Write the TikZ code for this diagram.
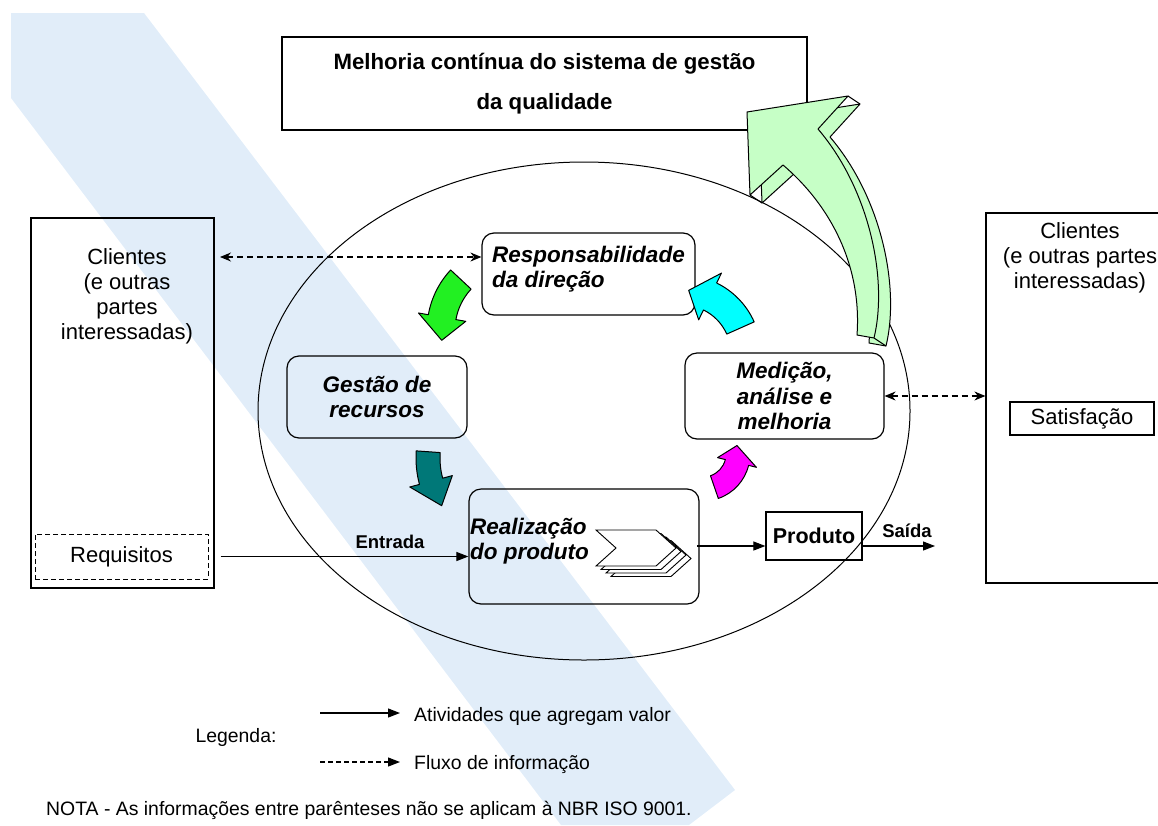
\documentclass[tikz,border=0pt]{standalone}
\usepackage{fontspec}
\setmainfont{Liberation Sans}
\usepackage{tikz}
\usetikzlibrary{calc,arrows.meta}
\definecolor{bandblue}{HTML}{E1EDF9}
\definecolor{arrgreen}{HTML}{22F022}
\definecolor{arrcyan}{HTML}{00FFFF}
\definecolor{arrteal}{HTML}{007878}
\definecolor{arrmagenta}{HTML}{FF00FF}
\definecolor{biggreen}{HTML}{C6FFC6}
\tikzset{
  box/.style={draw, line width=1.2pt, inner sep=1pt},
  rbox/.style={box, rounded corners=12pt},
  reg/.style={font=\fontsize{22}{25}\selectfont, align=center, inner sep=1pt},
  bi/.style={font=\fontsize{22.5}{25.5}\selectfont\bfseries\itshape, align=center, inner sep=1pt},
  bd/.style={font=\fontsize{21.5}{25}\selectfont\bfseries, inner sep=1pt},
  lbl/.style={font=\fontsize{18.5}{21}\selectfont\bfseries, inner sep=1pt},
  leg/.style={font=\fontsize{19.4}{22}\selectfont, inner sep=1pt},
  flow/.style={line width=1.1pt, -{Triangle[length=12pt,width=9pt]}},
  info/.style={line width=1.1pt, dash pattern=on 6pt off 4pt,
    {Stealth[length=11pt,width=9pt]}-{Stealth[length=11pt,width=9pt]}},
  curv/.style={draw=black, line width=1pt, line join=round},
  chev/.style={draw=black, fill=white, line width=0.9pt, line join=miter},
  bigarr/.style={draw=black, fill=biggreen, line width=1pt, line join=round},
}
\begin{document}
\begin{tikzpicture}[x=1pt, y=-1pt]
  \useasboundingbox (0,0) rectangle (1158,825);
  \clip (0,0) rectangle (1158,825);

  % watermark band
  \fill[bandblue] (11,13) -- (144,13) -- (735,790) -- (689,825) -- (561,825) -- (11,98) -- cycle;

  \draw[line width=1pt] (584,411) ellipse[x radius=326, y radius=249];

  % outer boxes
  \node[box, minimum width=525, minimum height=93, align=center,
        font=\fontsize{22.2}{40}\selectfont\bfseries] (melhoria) at (544.5,83.5)
        {Melhoria contínua do sistema de gestão\\da qualidade};

  \node[box, minimum width=183, minimum height=370] (cliL) at (122.5,403) {};
  \node[reg] (cliLtxt) at (127,296) {Clientes\\(e outras\\partes\\interessadas)};
  \node[box, reg, line width=1pt, dash pattern=on 5pt off 3pt,
        minimum width=173, minimum height=45] (req) at (121.5,556.5) {Requisitos};

  \node[box, minimum width=189, minimum height=370] (cliR) at (1080.5,398) {};
  \node[reg] (cliRtxt) at (1080,257.5) {Clientes\\(e outras partes\\interessadas)};
  \node[box, reg, minimum width=144, minimum height=33] (satisf) at (1082,418.5) {Satisfação};

  % process boxes
  \node[rbox, minimum width=213, minimum height=82] (resp) at (588.5,274) {};
  \node[bi, align=left, anchor=west] (resptxt) at (491,269) {Responsabilidade\\da direção};
  \node[rbox, bi, minimum width=180, minimum height=82] (gestao) at (377,397) {Gestão de\\recursos};
  \node[rbox, bi, minimum width=199, minimum height=86] (med) at (784.5,396) {Medição,\\análise e\\melhoria};
  \node[rbox, minimum width=230, minimum height=115] (real) at (584,546.5) {};
  \node[bi, align=left, anchor=west] (realtxt) at (469,541) {Realização\\do produto};
  \node[box, bd, minimum width=96, minimum height=48] (prod) at (814,536) {Produto};

  % chevrons
  \foreach \k in {3,2,1,0}
    \draw[chev, shift={({596+5*\k},{530+3.5*\k})}]
      (0,0) -- (60,0) -- (80,18) -- (60,36) -- (0,36) -- (20,18) -- cycle;

  % flows
  \coordinate (chevtip) at (697,546);
  \coordinate (saida) at (935,546);
  \draw[flow] ([xshift=12]req.east) -- (req.east -| real.west);
  \node[lbl] (entrada) at (390,542) {Entrada};
  \draw[flow] (chevtip) -- (chevtip -| prod.west);
  \draw[flow] (prod.east |- saida) -- (saida);
  \node[lbl] (saidatxt) at (907,531) {Saída};

  \coordinate (infoL) at (220,257);
  \draw[info] (infoL) -- (infoL -| resp.west);
  \draw[info] (med.east) -- (med.east -| cliR.west);

  % curved block arrows
  \foreach \col/\cx/\cy/\r/\a/\b/\c/\w/\h in {
      arrgreen/515/330/74/223/190/172/28/24,
      arrteal/518/458/90/184/165/148/24/22,
      arrmagenta/703/454/35/71/14/-14/24/20,
      arrcyan/682/354/64/336/296/276/30/26}
    \draw[curv, fill=\col] ($(\cx,\cy)+(\a:{\r+\w/2})$)
      arc[start angle=\a, end angle=\b, radius={\r+\w/2}]
      -- ($(\cx,\cy)+(\b:{\r+\h})$) -- ($(\cx,\cy)+(\c:\r)$)
      -- ($(\cx,\cy)+(\b:{\r-\h})$) -- ($(\cx,\cy)+(\b:{\r-\w/2})$)
      arc[start angle=\b, end angle=\a, radius={\r-\w/2}] -- cycle;

  % big arrow towards improvement
  \foreach \dx/\dy in {12/8, 0/0}
    \draw[bigarr, shift={(\dx,\dy)}] (857,335) -- (874,338)
      .. controls (888,280) and (870,190) .. (818,129) -- (848,96) -- (747,112)
      -- (750,195) -- (783,165) .. controls (830,205) and (862,265) .. (857,335) -- cycle;
  \draw[line width=1pt] (848,96) -- (860,104) (750,195) -- (762,203) (874,338) -- (886,346);

  % legend
  \coordinate (legA) at (320,713);
  \coordinate (legB) at (400,713);
  \coordinate (legC) at (320,762);
  \coordinate (legD) at (400,762);
  \draw[flow] (legA) -- (legB);
  \draw[flow, dash pattern=on 5pt off 3pt] (legC) -- (legD);
  \node[leg] (legenda) at (236,737) {Legenda:};
  \node[leg, anchor=west] (legval) at (413,716) {Atividades que agregam valor};
  \node[leg, anchor=west] (leginf) at (413,765) {Fluxo de informação};
  \node[leg, anchor=west] (nota) at (45,810)
    {NOTA - As informações entre parênteses não se aplicam à NBR ISO 9001.};
\end{tikzpicture}
\end{document}
